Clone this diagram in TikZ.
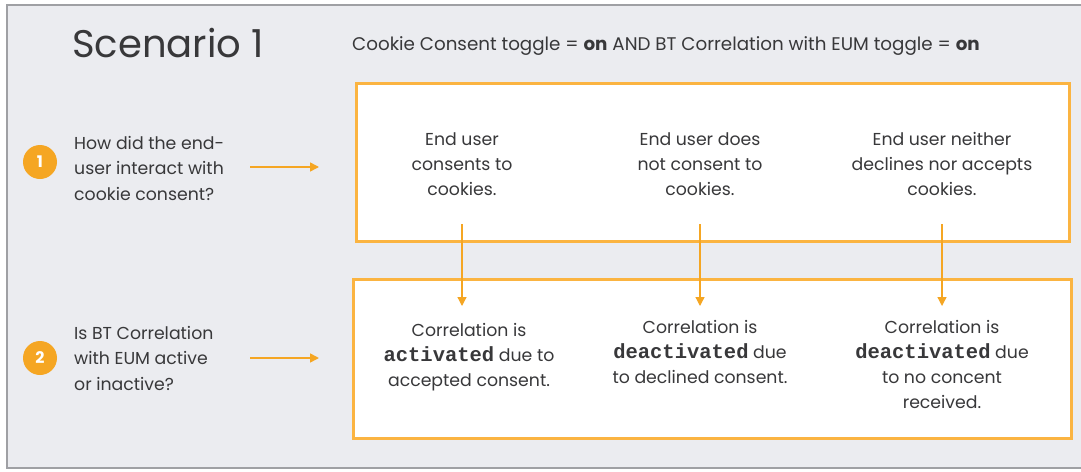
\documentclass[tikz,border=0pt]{standalone}
\usepackage{fontspec}
\setmainfont{Poppins}
\newfontfamily\monob{Liberation Mono}[BoldFont={Liberation Mono Bold}]
\usetikzlibrary{arrows.meta}
\definecolor{framebg}{HTML}{EBECF0}
\definecolor{frameln}{HTML}{9FA0A4}
\definecolor{orng}{HTML}{FBB441}
\definecolor{orngd}{HTML}{F5A623}
\definecolor{txt}{HTML}{38383A}
\newcommand{\mb}[1]{{\monob\bfseries\fontsize{20.5}{25}\selectfont #1}}
\tikzset{
  every node/.style={text=txt, inner sep=0pt},
  body/.style={font=\fontsize{17.3}{25}\selectfont, align=center, anchor=north},
  ques/.style={font=\fontsize{17.3}{25.5}\selectfont, align=left, anchor=north west},
  obox/.style={draw=orng, line width=3pt, fill=white},
  harrow/.style={draw=orngd, line width=1.6pt, -{Triangle[length=9pt,width=9pt]}},
  varrow/.style={draw=orngd, line width=1.3pt, -{Triangle[length=9pt,width=9pt]}},
  numcirc/.style={circle, fill=orngd, minimum size=34pt, text=white, font=\fontsize{16}{16}\selectfont\bfseries},
}
\begin{document}
\begin{tikzpicture}[x=1pt,y=-1pt]
\clip (0,0) rectangle (1081,471);
\fill[white] (0,0) rectangle (1081,471);
\draw[frameln, line width=2pt, fill=framebg] (7,5) rectangle (1095,468);

\node[anchor=base west, font=\fontsize{38.5}{38}\selectfont] (title) at (72,57) {Scenario 1};
\node[anchor=base west, font=\fontsize{18.3}{18}\selectfont] (sub) at (352,50) {Cookie Consent toggle = \textbf{on} AND BT Correlation with EUM toggle = \textbf{on}};

% boxes
\node[obox, minimum width=713pt, minimum height=158pt, anchor=north west] (box1) at (355,82) {};
\node[obox, minimum width=718pt, minimum height=159pt, anchor=north west] (box2) at (352,278) {};

% circles
\node[numcirc] (c1) at (40,162) {1};
\node[numcirc] (c2) at (40,358) {2};

% questions
\node[ques] (q1) at (74,136) {How did the end-\\user interact with\\cookie consent?};
\node[ques] (q2) at (74,326) {Is BT Correlation\\with EUM active\\or inactive?};

\coordinate (h1s) at (250,167);
\coordinate (h1e) at (319,167);
\coordinate (h2s) at (250,358);
\coordinate (h2e) at (319,358);
\draw[harrow] (h1s) -- (h1e);
\draw[harrow] (h2s) -- (h2e);

% top texts
\node[body] (t1) at (462,132) {End user\\consents to\\cookies.};
\node[body] (t2) at (700,132) {End user does\\not consent to\\cookies.};
\node[body] (t3) at (942,132) {End user neither\\declines nor accepts\\cookies.};

% bottom texts
\node[body] (b1) at (469,323) {Correlation is\\\mb{activated} due to\\accepted consent.};
\node[body] (b2) at (700,320) {Correlation is\\\mb{deactivated} due\\to declined consent.};
\node[body] (b3) at (942,320) {Correlation is\\\mb{deactivated} due\\to no concent\\received.};

% vertical arrows
\coordinate (v1s) at (462,224);
\coordinate (v2s) at (700,224);
\coordinate (v3s) at (942,224);
\coordinate (v1e) at (462,306);
\coordinate (v2e) at (700,306);
\coordinate (v3e) at (942,306);
\draw[varrow] (v1s) -- (v1e);
\draw[varrow] (v2s) -- (v2e);
\draw[varrow] (v3s) -- (v3e);
\end{tikzpicture}
\end{document}
